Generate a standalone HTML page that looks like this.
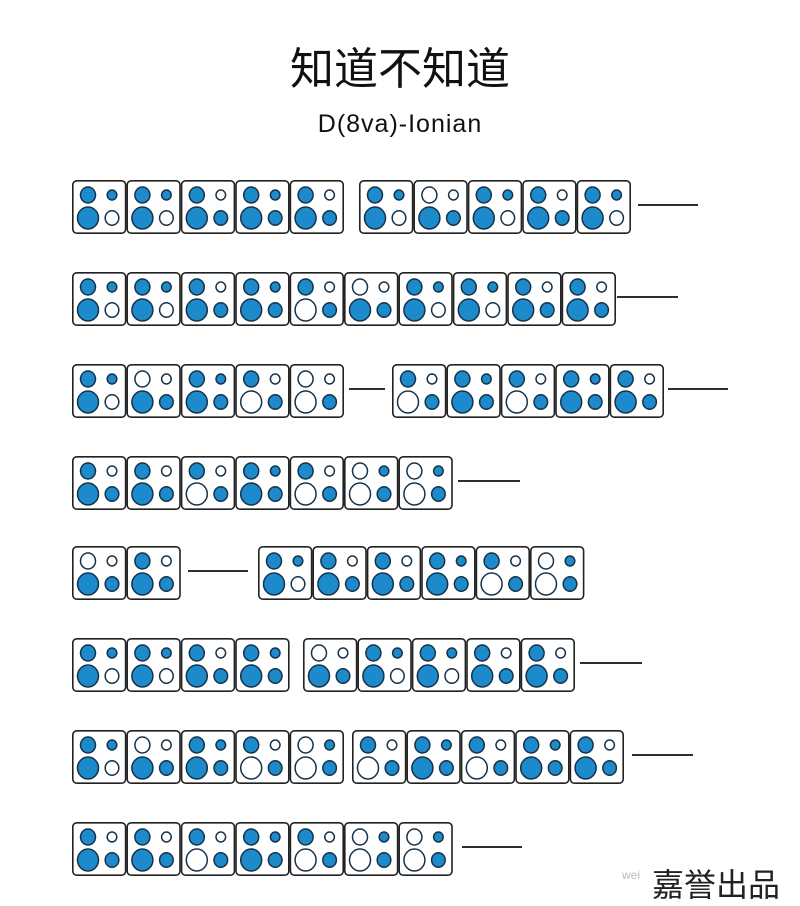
<!DOCTYPE html>
<html><head><meta charset="utf-8"><style>
body{margin:0;background:#fff;width:800px;height:887px;overflow:hidden;position:relative}
.t{position:absolute;left:0;width:800px;text-align:center;color:#111}
</style></head><body>
<div class="t" style="top:33px;font:44px 'Liberation Sans','Noto Sans CJK SC',sans-serif;">知道不知道</div>
<div class="t" style="top:110px;font:25px 'Liberation Sans','Noto Sans CJK SC',sans-serif;letter-spacing:1px">D(8va)-Ionian</div>
<div style="position:absolute;left:652px;top:860px;font:32px 'Liberation Sans','Noto Sans CJK SC',sans-serif;color:#222">嘉誉出品</div>
<div style="position:absolute;left:622px;top:868px;font:12px 'Liberation Sans',sans-serif;color:#bbb">wei</div>
<svg id="s" width="800" height="887" style="position:absolute;left:0;top:0"></svg>
<script>
var rows=[
 [180,[[72,["1110","1110","1011","1111","1011"]],[359,["1110","0011","1110","1011","1110"]]],[[638,698]]],
 [272,[[72,["1110","1110","1011","1111","1001","0011","1110","1110","1011","1011"]]],[[617,678]]],
 [364,[[72,["1110","0011","1111","1001","0001"]],[392,["1001","1111","1001","1111","1011"]]],[[349,385],[668,728]]],
 [456,[[72,["1011","1011","1001","1111","1001","0101","0101"]]],[[458,520]]],
 [546,[[72,["0011","1011"]],[258,["1110","1011","1011","1111","1001","0101"]]],[[188,248]]],
 [638,[[72,["1110","1110","1011","1111"]],[303,["0011","1110","1110","1011","1011"]]],[[580,642]]],
 [730,[[72,["1110","0011","1111","1001","0101"]],[352,["1001","1111","1001","1111","1011"]]],[[632,693]]],
 [822,[[72,["1011","1011","1001","1111","1001","0101","0101"]]],[[462,522]]]
];
var W=54.4,H=54,h='';
var holes=[[16,15,7.5,8],[40,15,4.8,5],[16,38,10.5,11],[40,38,6.8,7.2]];
rows.forEach(function(r){
 var y=r[0];
 r[1].forEach(function(g){
  g[1].forEach(function(c,i){
   var x=g[0]+i*W;
   h+='<rect x="'+(x+0.8)+'" y="'+(y+0.8)+'" width="'+(W-1.6)+'" height="'+(H-1.6)+'" rx="4" fill="#fff" stroke="#222" stroke-width="1.6"/>';
   holes.forEach(function(o,k){
    h+='<ellipse cx="'+(x+o[0])+'" cy="'+(y+o[1])+'" rx="'+o[2]+'" ry="'+o[3]+'" fill="'+(c[k]=='1'?'#1d8acb':'#fff')+'" stroke="#16324a" stroke-width="1.5"/>';
   });
  });
 });
 r[2].forEach(function(l){
  h+='<line x1="'+l[0]+'" x2="'+l[1]+'" y1="'+(y+25)+'" y2="'+(y+25)+'" stroke="#111" stroke-width="1.8"/>';
 });
});
document.getElementById('s').innerHTML=h;
</script>
</body></html>
